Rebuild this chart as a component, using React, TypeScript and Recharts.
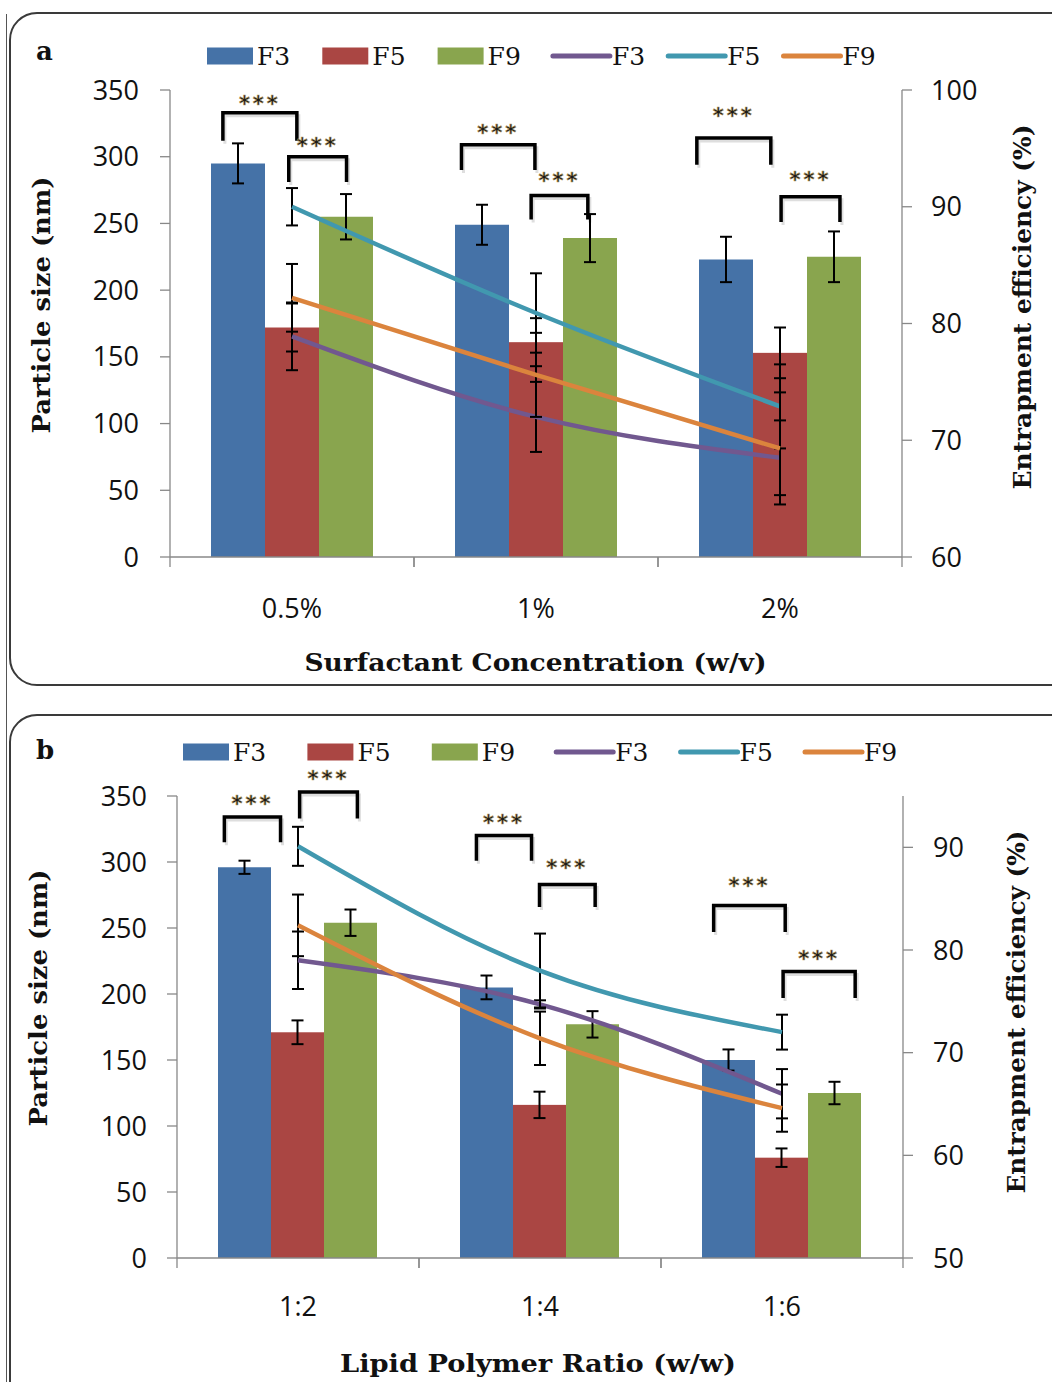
import React from 'react';
import { ComposedChart, Bar, Line, XAxis, YAxis, ErrorBar } from 'recharts';

// ---------- series identity ----------
const SERIES_NAMES = ['F3', 'F5', 'F9'];
const BAR_COLORS = ['#4572A7', '#AA4643', '#89A54E'];
const LINE_COLORS = ['#71588F', '#4198AF', '#DB843D'];

// ---------- panel a : surfactant concentration ----------
const surfactantCats = ['0.5%', '1%', '2%'];
const sizeF3_a = [295, 249, 223];
const sizeF5_a = [172, 161, 153];
const sizeF9_a = [255, 239, 225];
const sizeErrF3_a = [15, 15, 17];
const sizeErrF5_a = [18, 18, 19];
const sizeErrF9_a = [17, 18, 19];
const eeF3_a = [78.9, 72.0, 68.5];
const eeF5_a = [90.0, 80.9, 72.9];
const eeF9_a = [82.2, 75.6, 69.3];
const eeErrF3_a = [2.9, 3.0, 3.2];
const eeErrF5_a = [1.6, 3.4, 3.6];
const eeErrF9_a = [2.9, 3.6, 4.8];
const sizeTicks = [0, 50, 100, 150, 200, 250, 300, 350];
const eeTicks_a = [60, 70, 80, 90, 100];

// significance brackets for panel a (heights in particle-size units)
const sigCat_a = [0, 0, 1, 1, 2, 2];
const sigTop_a = [333, 300, 309, 271, 314, 270];
const sigLeg_a = [312, 281, 290, 253, 294, 251];
const sigStar_a = [342, 310, 320, 284, 333, 285];
const sigFrom_a = [-1.28, -0.06, -1.38, -0.09, -1.54, 0.02];
const sigTo_a = [0.09, 1.01, -0.02, 0.96, -0.17, 1.11];

// ---------- panel b : lipid polymer ratio ----------
const ratioCats = ['1:2', '1:4', '1:6'];
const sizeF3_b = [296, 205, 150];
const sizeF5_b = [171, 116, 76];
const sizeF9_b = [254, 177, 125];
const sizeErrF3_b = [5, 9, 8];
const sizeErrF5_b = [9, 10, 7];
const sizeErrF9_b = [10, 10, 8.5];
const eeF3_b = [79.0, 74.7, 66.0];
const eeF5_b = [90.1, 78.0, 72.0];
const eeF9_b = [82.4, 71.4, 64.6];
const eeErrF3_b = [2.8, 0.4, 2.4];
const eeErrF5_b = [1.9, 3.6, 1.7];
const eeErrF9_b = [3.0, 2.6, 2.3];
const eeTicks_b = [50, 60, 70, 80, 90];

const sigCat_b = [0, 0, 1, 1, 2, 2];
const sigTop_b = [334, 353, 320, 283, 267, 217];
const sigLeg_b = [315, 333, 301, 266, 247, 197];
const sigStar_b = [346, 365, 332, 298, 284, 229];
const sigFrom_b = [-1.38, 0.04, -1.19, 0.0, -1.28, 0.03];
const sigTo_b = [-0.32, 1.13, -0.15, 1.05, 0.07, 1.39];

// ---------- styling ----------
const AXIS_GRAY = '#888888';
const SANS = '"Open Sans", "DejaVu Sans", sans-serif';
const SERIF = '"DejaVu Serif", "Liberation Serif", serif';

type Row = Record<string, any>;

function buildRows(
  cats: string[],
  s: number[][],
  se: number[][],
  e: number[][],
  ee: number[][]
): Row[] {
  return cats.map((c, i) => ({
    cat: c,
    s0: s[0][i], s1: s[1][i], s2: s[2][i],
    se0: se[0][i], se1: se[1][i], se2: se[2][i],
    e0: e[0][i], e1: e[1][i], e2: e[2][i],
    ee0: ee[0][i], ee1: ee[1][i], ee2: ee[2][i],
  }));
}

type Sig = { cat: number[]; top: number[]; leg: number[]; star: number[]; from: number[]; to: number[] };

// middle bar shape that also draws the significance brackets of its group
function makeMiddleShape(cats: string[], sig: Sig) {
  return (props: any) => {
    const { x, y, width, height, fill, payload } = props;
    const ci = cats.indexOf(payload.cat);
    const val = payload.s1;
    const base = y + height;
    const k = height / val;
    const cx = x + width / 2;
    const items: any[] = [];
    sig.cat.forEach((c, j) => {
      if (c !== ci) return;
      const xa = cx + sig.from[j] * width;
      const xb = cx + sig.to[j] * width;
      const yt = base - sig.top[j] * k;
      const yl = base - sig.leg[j] * k;
      const ys = base - sig.star[j] * k;
      items.push(
        <g key={j}>
          <path
            d={`M${xa + 2},${yl + 3} L${xa + 2},${yt + 3} L${xb + 2},${yt + 3} L${xb + 2},${yl + 3}`}
            fill="none"
            stroke="#c8c8c8"
            strokeWidth={3}
            opacity={0.6}
          />
          <path
            d={`M${xa},${yl} L${xa},${yt} L${xb},${yt} L${xb},${yl}`}
            fill="none"
            stroke="#000"
            strokeWidth={3.5}
          />
          <text
            x={(xa + xb) / 2}
            y={ys + 10}
            textAnchor="middle"
            fontFamily='"DejaVu Sans", sans-serif'
            fontWeight="bold"
            fontSize={21}
            letterSpacing={3}
            fill="#1a1a1a"
            stroke="#b89a5a"
            strokeWidth={0.5}
          >
            ***
          </text>
        </g>
      );
    });
    return (
      <g>
        <rect x={x} y={y} width={width} height={height} fill={fill} />
        {items}
      </g>
    );
  };
}

function makeCatTick(half: number, labelDy: number) {
  return (props: any) => {
    const { x, y, payload } = props;
    return (
      <g>
        <line x1={x - half} x2={x - half} y1={y} y2={y + 10} stroke={AXIS_GRAY} strokeWidth={1.3} />
        <line x1={x + half} x2={x + half} y1={y} y2={y + 10} stroke={AXIS_GRAY} strokeWidth={1.3} />
        <text
          x={x}
          y={y + labelDy}
          textAnchor="middle"
          dominantBaseline="central"
          fontFamily={SANS}
          fontSize={27}
          fill="#111"
        >
          {payload.value}
        </text>
      </g>
    );
  };
}

type Geom = { height: number; top: number; bottom: number; left: number; right: number };

function Panel(props: {
  rows: Row[];
  cats: string[];
  geom: Geom;
  rightDomain: [number, number];
  rightTicks: number[];
  sig: Sig;
  labelDy: number;
  leftMargin: number;
  rightMargin: number;
}) {
  const { rows, cats, geom, rightDomain, rightTicks, sig, labelDy, leftMargin, rightMargin } = props;
  const W = 1052;
  const axisW = 80;
  const xAxisH = 60;
  const plotW = geom.right - geom.left;
  const half = plotW / cats.length / 2;
  const margin = {
    top: geom.top,
    bottom: geom.height - geom.bottom - xAxisH,
    left: geom.left - axisW,
    right: W - geom.right - axisW,
  };
  const middleShape = makeMiddleShape(cats, sig);
  return (
    <ComposedChart
      width={W}
      height={geom.height}
      data={rows}
      margin={margin}
      barCategoryGap={41}
      barGap={0}
    >
      <XAxis
        dataKey="cat"
        height={xAxisH}
        axisLine={{ stroke: AXIS_GRAY, strokeWidth: 1.3 }}
        tickLine={false}
        tickSize={0}
        tickMargin={0}
        interval={0}
        tick={makeCatTick(half, labelDy)}
      />
      <YAxis
        yAxisId="left"
        orientation="left"
        width={axisW}
        domain={[0, 350]}
        ticks={sizeTicks}
        axisLine={{ stroke: AXIS_GRAY, strokeWidth: 1.3 }}
        tickLine={{ stroke: AXIS_GRAY, strokeWidth: 1.3 }}
        tickSize={10}
        tickMargin={leftMargin}
        tick={{ fill: '#111', fontSize: 27, fontFamily: SANS }}
      />
      <YAxis
        yAxisId="right"
        orientation="right"
        width={axisW}
        domain={rightDomain}
        ticks={rightTicks}
        axisLine={{ stroke: AXIS_GRAY, strokeWidth: 1.3 }}
        tickLine={{ stroke: AXIS_GRAY, strokeWidth: 1.3 }}
        tickSize={10}
        tickMargin={rightMargin}
        tick={{ fill: '#111', fontSize: 27, fontFamily: SANS, textAnchor: 'start' }}
      />
      <Bar yAxisId="left" dataKey="s0" name={SERIES_NAMES[0]} fill={BAR_COLORS[0]} isAnimationActive={false}>
        <ErrorBar dataKey="se0" width={6} strokeWidth={2} stroke="#000" />
      </Bar>
      <Bar
        yAxisId="left"
        dataKey="s1"
        name={SERIES_NAMES[1]}
        fill={BAR_COLORS[1]}
        isAnimationActive={false}
        shape={middleShape}
      >
        <ErrorBar dataKey="se1" width={6} strokeWidth={2} stroke="#000" />
      </Bar>
      <Bar yAxisId="left" dataKey="s2" name={SERIES_NAMES[2]} fill={BAR_COLORS[2]} isAnimationActive={false}>
        <ErrorBar dataKey="se2" width={6} strokeWidth={2} stroke="#000" />
      </Bar>
      {[0, 1, 2].map((i) => (
        <Line
          key={i}
          yAxisId="right"
          type="monotone"
          dataKey={`e${i}`}
          name={SERIES_NAMES[i]}
          stroke={LINE_COLORS[i]}
          strokeWidth={4.5}
          dot={false}
          activeDot={false}
          isAnimationActive={false}
        >
          <ErrorBar dataKey={`ee${i}`} width={6} strokeWidth={2} stroke="#000" />
        </Line>
      ))}
    </ComposedChart>
  );
}

function LegendRow({ x0, step, yc }: { x0: number; step: number; yc: number }) {
  const items: any[] = [];
  SERIES_NAMES.forEach((n, i) => {
    const x = x0 + i * step;
    items.push(
      <g key={`b${i}`}>
        <rect x={x} y={yc - 8.5} width={46} height={17} fill={BAR_COLORS[i]} />
        <text x={x + 50} y={yc + 9} fontFamily={SERIF} fontSize={25} fill="#111">
          {n}
        </text>
      </g>
    );
  });
  SERIES_NAMES.forEach((n, i) => {
    const x = x0 + (i + 3) * step;
    items.push(
      <g key={`l${i}`}>
        <line x1={x} x2={x + 57} y1={yc} y2={yc} stroke={LINE_COLORS[i]} strokeWidth={5} strokeLinecap="round" />
        <text x={x + 59} y={yc + 9} fontFamily={SERIF} fontSize={25} fill="#111">
          {n}
        </text>
      </g>
    );
  });
  return <g>{items}</g>;
}

function VText({ cx, cy, len, children }: { cx: number; cy: number; len: number; children: string }) {
  return (
    <text
      transform={`translate(${cx},${cy}) rotate(-90)`}
      textAnchor="middle"
      dominantBaseline="central"
      fontFamily={SERIF}
      fontWeight="bold"
      fontSize={25}
      fill="#111"
      textLength={len}
      lengthAdjust="spacingAndGlyphs"
    >
      {children}
    </text>
  );
}

export default function App() {
  const rowsA = buildRows(
    surfactantCats,
    [sizeF3_a, sizeF5_a, sizeF9_a],
    [sizeErrF3_a, sizeErrF5_a, sizeErrF9_a],
    [eeF3_a, eeF5_a, eeF9_a],
    [eeErrF3_a, eeErrF5_a, eeErrF9_a]
  );
  const rowsB = buildRows(
    ratioCats,
    [sizeF3_b, sizeF5_b, sizeF9_b],
    [sizeErrF3_b, sizeErrF5_b, sizeErrF9_b],
    [eeF3_b, eeF5_b, eeF9_b],
    [eeErrF3_b, eeErrF5_b, eeErrF9_b]
  );
  const sigA: Sig = { cat: sigCat_a, top: sigTop_a, leg: sigLeg_a, star: sigStar_a, from: sigFrom_a, to: sigTo_a };
  const sigB: Sig = { cat: sigCat_b, top: sigTop_b, leg: sigLeg_b, star: sigStar_b, from: sigFrom_b, to: sigTo_b };

  return (
    <div
      style={{
        position: 'absolute',
        left: 0,
        top: 0,
        width: 1052,
        height: 1382,
        overflow: 'hidden',
        background: '#fff',
      }}
    >
      {/* outer frame line and panel frames */}
      <div style={{ position: 'absolute', left: 6, top: 14, width: 0, height: 1368, borderLeft: '1.5px solid #555' }} />
      <div
        style={{
          position: 'absolute',
          left: 9,
          top: 12,
          width: 1070,
          height: 670,
          border: '2px solid #3a3a3a',
          borderRadius: 28,
          background: '#fff',
        }}
      />
      <div
        style={{
          position: 'absolute',
          left: 9,
          top: 714,
          width: 1070,
          height: 700,
          border: '2px solid #3a3a3a',
          borderRadius: 28,
          background: '#fff',
        }}
      />

      <div style={{ position: 'absolute', left: 0, top: 0 }}>
        <Panel
          rows={rowsA}
          cats={surfactantCats}
          geom={{ height: 700, top: 90, bottom: 557, left: 170, right: 902 }}
          rightDomain={[60, 100]}
          rightTicks={eeTicks_a}
          sig={sigA}
          labelDy={50}
          leftMargin={21}
          rightMargin={19}
        />
      </div>
      <div style={{ position: 'absolute', left: 0, top: 700 }}>
        <Panel
          rows={rowsB}
          cats={ratioCats}
          geom={{ height: 682, top: 96, bottom: 558, left: 177, right: 903 }}
          rightDomain={[50, 95]}
          rightTicks={eeTicks_b}
          sig={sigB}
          labelDy={47}
          leftMargin={20}
          rightMargin={20}
        />
      </div>

      <svg
        width={1052}
        height={1382}
        style={{ position: 'absolute', left: 0, top: 0, pointerEvents: 'none' }}
      >
        {/* panel a texts */}
        <text x={36} y={60} fontFamily={SERIF} fontWeight="bold" fontSize={26} fill="#111">
          a
        </text>
        <LegendRow x0={207} step={115.3} yc={56} />
        <text
          x={535.5}
          y={662}
          textAnchor="middle"
          dominantBaseline="central"
          fontFamily={SERIF}
          fontWeight="bold"
          fontSize={25}
          fill="#111"
          textLength={462}
          lengthAdjust="spacingAndGlyphs"
        >
          Surfactant Concentration (w/v)
        </text>
        <VText cx={41} cy={305} len={257}>Particle size (nm)</VText>
        <VText cx={1022} cy={307} len={365}>Entrapment efficiency (%)</VText>

        {/* panel b texts */}
        <text x={36} y={759} fontFamily={SERIF} fontWeight="bold" fontSize={26} fill="#111">
          b
        </text>
        <LegendRow x0={183} step={124.4} yc={752} />
        <text
          x={538}
          y={1363}
          textAnchor="middle"
          dominantBaseline="central"
          fontFamily={SERIF}
          fontWeight="bold"
          fontSize={25}
          fill="#111"
          textLength={396}
          lengthAdjust="spacingAndGlyphs"
        >
          Lipid Polymer Ratio (w/w)
        </text>
        <VText cx={38} cy={998} len={257}>Particle size (nm)</VText>
        <VText cx={1016} cy={1012} len={363}>Entrapment efficiency (%)</VText>
      </svg>
    </div>
  );
}
